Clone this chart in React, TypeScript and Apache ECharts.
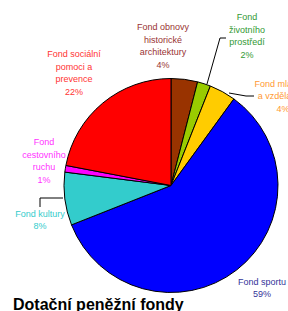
import React, { useEffect, useRef } from "react";
import * as echarts from "echarts";

const categories = [
  "Fond obnovy\nhistorické\narchitektury",
  "Fond\nživotního\nprostředí",
  "Fond mládeže\na vzdělávání",
  "Fond sportu",
  "Fond kultury",
  "Fond\ncestovního\nruchu",
  "Fond sociální\npomoci a\nprevence",
];
const values = [4, 2, 4, 59, 8, 1, 22];
const sliceColors = ["#993300", "#99CC00", "#FFCC00", "#0000FF", "#33CCCC", "#FF00FF", "#FF0000"];
const labelColors = ["#993333", "#339933", "#FF9933", "#333399", "#33CCCC", "#FF33FF", "#FF3333"];
const title = "Dotační peněžní fondy";

// label placement (layout only)
const labelPos: [number, number][] = [
  [163, 46],
  [247, 36],
  [283, 96],
  [262, 288],
  [40, 220],
  [44, 161],
  [74, 73],
];
const linePts: ([number, number][] | null)[] = [
  null,
  [[207, 84], [220, 38], [226, 38]],
  [[229, 93], [246, 96], [254, 96]],
  null,
  [[63, 198], [40, 198], [40, 207]],
  null,
  null,
];

export default function App() {
  const ref = useRef<HTMLDivElement>(null);
  useEffect(() => {
    if (!ref.current) return;
    const chart = echarts.init(ref.current, null, { renderer: "svg" });
    chart.setOption({
      animation: false,
      backgroundColor: "#ffffff",
      title: {
        text: title,
        left: 13,
        top: 296,
        padding: 0,
        textStyle: {
          fontFamily: "'Liberation Sans', Arial, sans-serif",
          fontSize: 16,
          fontWeight: "bold",
          color: "#000000",
        },
      },
      series: [
        {
          type: "pie",
          center: [171, 185.5],
          radius: 107,
          startAngle: 90,
          clockwise: true,
          avoidLabelOverlap: false,
          itemStyle: { borderColor: "#000000", borderWidth: 1 },
          emphasis: { disabled: true },
          label: {
            show: true,
            position: "outside",
            fontFamily: "'Liberation Sans', Arial, sans-serif",
            fontSize: 9,
            lineHeight: 12.5,
            align: "center",
            formatter: (p: any) => p.name + "\n" + Math.round(p.value) + "%",
          },
          labelLine: { show: false, lineStyle: { color: "#000000", width: 1 } },
          labelLayout: (params: any) => {
            const i = params.dataIndex;
            const res: any = {
              x: labelPos[i][0],
              y: labelPos[i][1],
              align: "center",
              verticalAlign: "middle",
            };
            if (linePts[i]) res.labelLinePoints = linePts[i];
            return res;
          },
          data: categories.map((name, i) => ({
            name,
            value: values[i],
            itemStyle: { color: sliceColors[i] },
            label: { color: labelColors[i] },
            labelLine: { show: linePts[i] !== null, length: 10, length2: 10 },
          })),
        },
      ],
    });
    return () => chart.dispose();
  }, []);
  return (
    <div
      ref={ref}
      style={{ position: "fixed", left: 0, top: 0, width: 288, height: 311 }}
    />
  );
}
